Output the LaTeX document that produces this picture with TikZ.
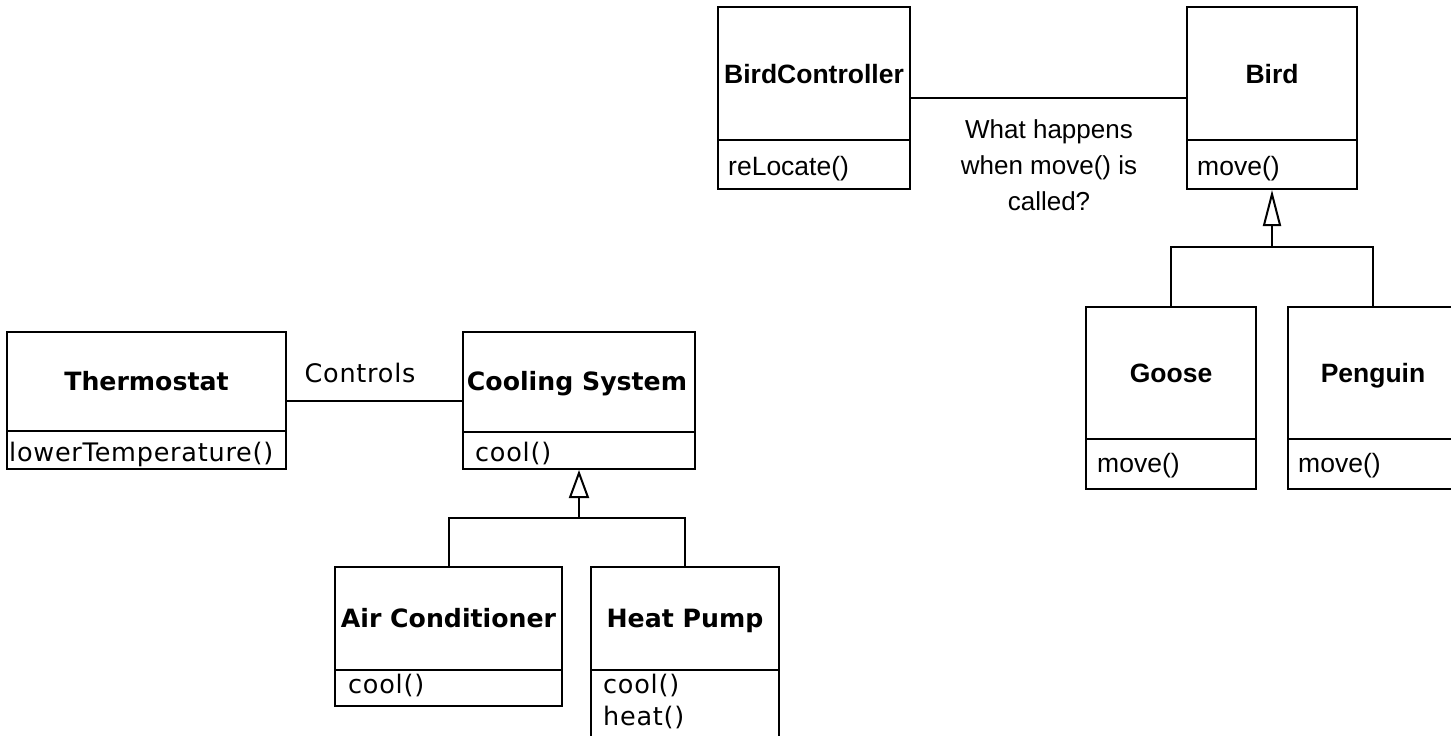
\documentclass[tikz,border=0pt]{standalone}
\usepackage{fontspec}
\usetikzlibrary{arrows.meta}
\newfontfamily\birdfont{Liberation Sans}
\newfontfamily\coolfont{DejaVu Sans}
\newfontfamily\coolopfont[LetterSpace=3]{DejaVu Sans}
\tikzset{
  x=1pt, y=-1pt,
  line/.style={line width=2pt, draw=black},
  classbox/.style={draw=black, line width=2pt, inner sep=0pt, fill=white},
  birdname/.style={font=\birdfont\bfseries\fontsize{26.5}{30}\selectfont, anchor=base, inner sep=0pt},
  birdop/.style={font=\birdfont\fontsize{26.5}{30}\selectfont, anchor=base west, inner sep=0pt},
  birdnote/.style={font=\birdfont\fontsize{26}{36}\selectfont, align=center, anchor=north, inner sep=0pt},
  coolname/.style={font=\coolfont\bfseries\fontsize{25.2}{28}\selectfont, anchor=base, inner sep=0pt},
  coolop/.style={font=\coolopfont\fontsize{25.5}{32}\selectfont, anchor=base west, inner sep=0pt},
  coolopmulti/.style={font=\coolopfont\fontsize{25.5}{32}\selectfont, anchor=north west, align=left, inner sep=0pt},
  genbird/.style={line, -{Triangle[open, length=36pt, width=18pt]}},
  gencool/.style={line, -{Triangle[open, length=28pt, width=20pt]}},
}
\begin{document}
\begin{tikzpicture}
\useasboundingbox (0,0) rectangle (1451,736);
\fill[white] (0,0) rectangle (1451,736);
\clip (0,0) rectangle (1451,736);

% ---------- Bird diagram ----------
\node[classbox, minimum width=192pt, minimum height=182pt] (bc) at (814,98) {};
\draw[line] (bc.west |- 0,140) -- (bc.east |- 0,140);
\node[birdname] (bcn) at (814,83) {BirdController};
\node[birdop] (bcop) at (728,175) {reLocate()};

\node[classbox, minimum width=170pt, minimum height=182pt] (bird) at (1272,98) {};
\draw[line] (bird.west |- 0,140) -- (bird.east |- 0,140);
\node[birdname] (birdn) at (1272,83) {Bird};
\node[birdop] (birdop) at (1197,175) {move()};

\node[classbox, minimum width=170pt, minimum height=182pt] (goose) at (1171,398) {};
\draw[line] (goose.west |- 0,439) -- (goose.east |- 0,439);
\node[birdname] (goosen) at (1171,382) {Goose};
\node[birdop] (gooseop) at (1097,472) {move()};

\node[classbox, minimum width=170pt, minimum height=182pt] (penguin) at (1373,398) {};
\draw[line] (penguin.west |- 0,439) -- (penguin.east |- 0,439);
\node[birdname] (penguinn) at (1373,382) {Penguin};
\node[birdop] (penguinop) at (1298,472) {move()};

\draw[line] (bc) -- (bird);
\node[birdnote] (note) at (1049,119.5) {What happens\\when move() is\\called?};

\coordinate (bj) at (1272,247);
\draw[line] (goose.north) |- (bj) -| (penguin.north);
\draw[genbird] (bj) -- (bird.south);

% ---------- Cooling diagram ----------
\node[classbox, minimum width=279pt, minimum height=137pt] (thermo) at (146.5,400.5) {};
\draw[line] (thermo.west |- 0,431) -- (thermo.east |- 0,431);
\node[coolname] (thermon) at (146.5,390) {Thermostat};
\node[coolop] (thermoop) at (9,461) {lowerTemperature()};

\node[classbox, minimum width=232pt, minimum height=137pt] (cool) at (579,400.5) {};
\draw[line] (cool.west |- 0,432) -- (cool.east |- 0,432);
\node[coolname] (cooln) at (577,390) {Cooling System};
\node[coolop] (coolop) at (475,461) {cool()};

\draw[line] (thermo) -- (cool);
\node[coolop, anchor=base] (controls) at (360,382) {Controls};

\node[classbox, minimum width=227pt, minimum height=139pt] (ac) at (448.5,636.5) {};
\draw[line] (ac.west |- 0,670) -- (ac.east |- 0,670);
\node[coolname] (acn) at (448.5,627) {Air Conditioner};
\node[coolop] (acop) at (348,693) {cool()};

\node[classbox, minimum width=188pt, minimum height=220pt] (hp) at (685,677) {};
\draw[line] (hp.west |- 0,670) -- (hp.east |- 0,670);
\node[coolname] (hpn) at (685,627) {Heat Pump};
\node[coolopmulti] (hpop) at (603,674) {cool()\\heat()};

\coordinate (cj) at (579,518);
\draw[line] (ac.north) |- (cj) -| (hp.north);
\draw[gencool] (cj) -- (cool.south);
\end{tikzpicture}
\end{document}
